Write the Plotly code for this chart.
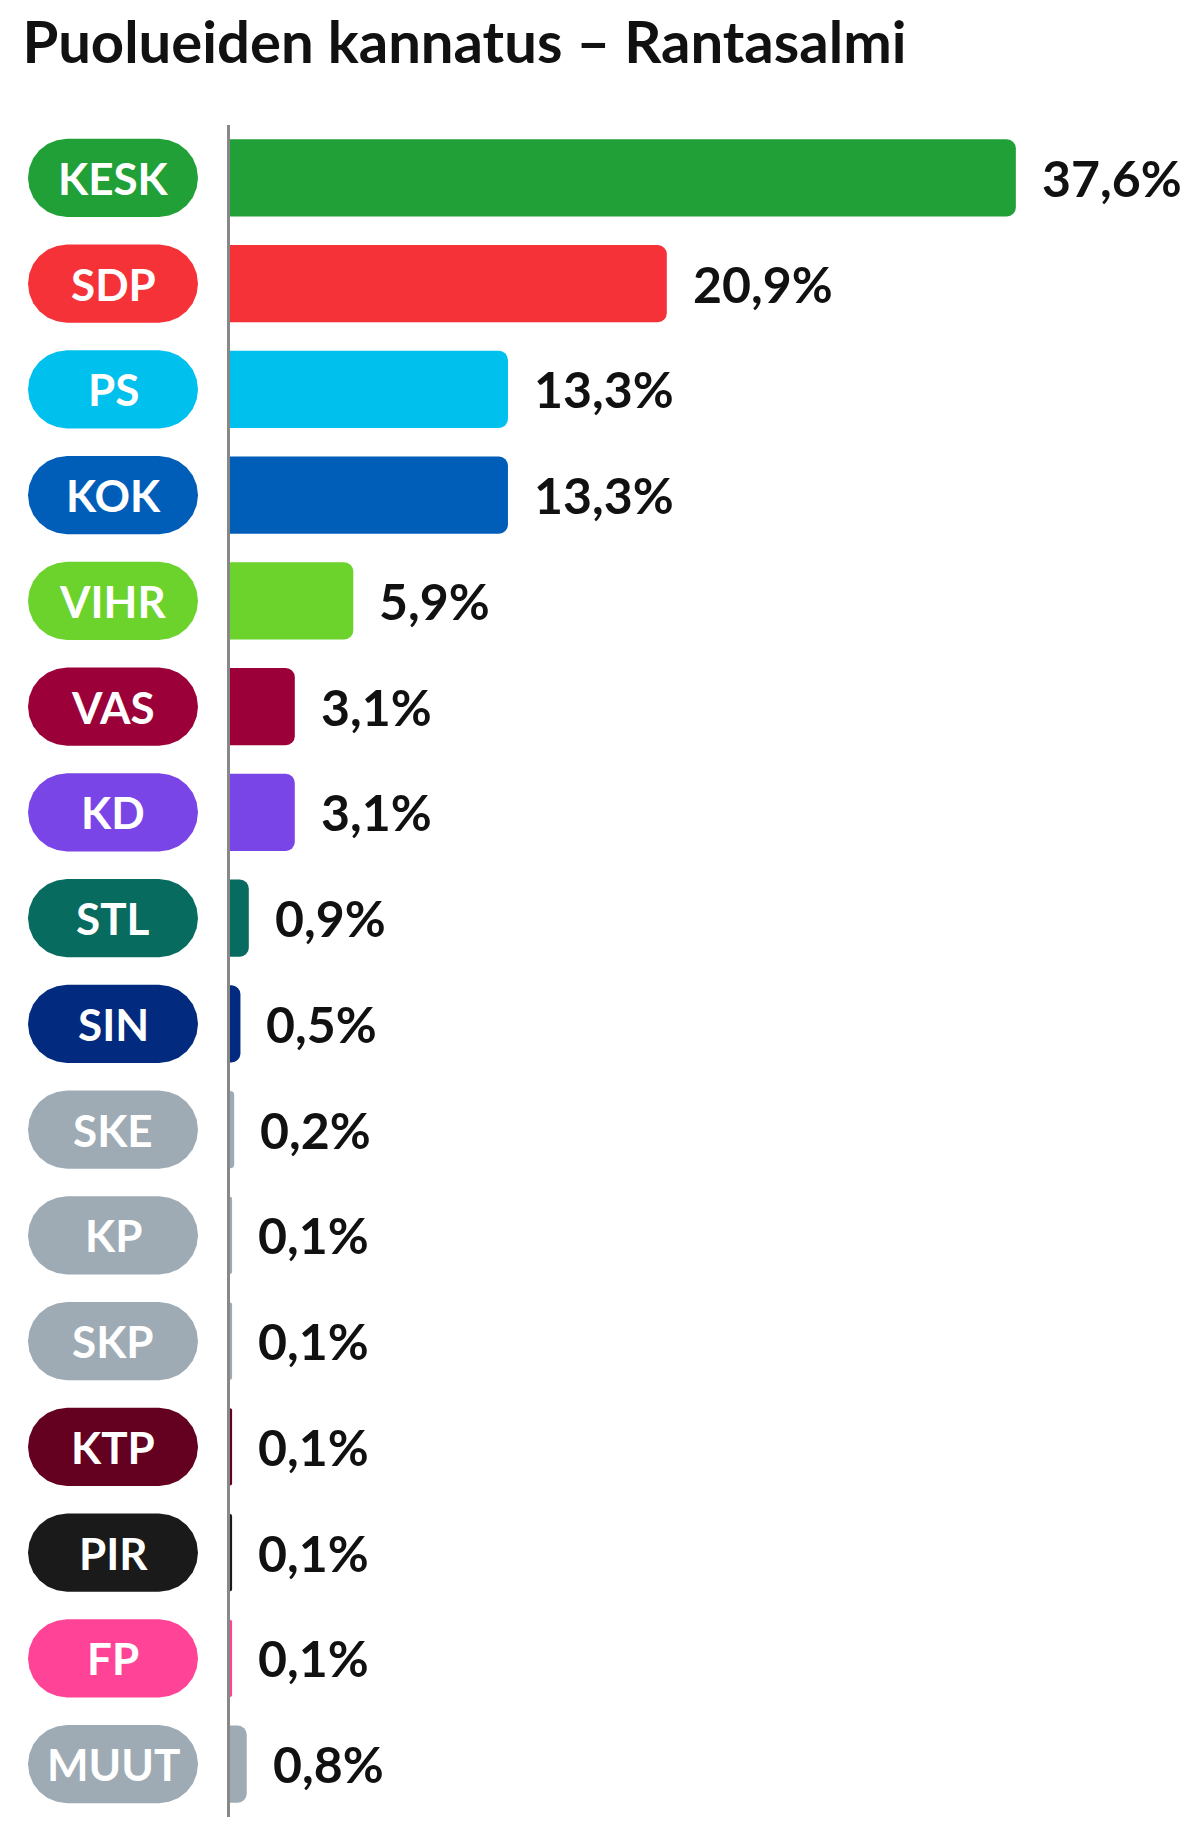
import math
import plotly.graph_objects as go

parties = ['KESK', 'SDP', 'PS', 'KOK', 'VIHR', 'VAS', 'KD', 'STL', 'SIN', 'SKE',
           'KP', 'SKP', 'KTP', 'PIR', 'FP', 'MUUT']
support = [37.6, 20.9, 13.3, 13.3, 5.9, 3.1, 3.1, 0.9, 0.5, 0.2,
           0.1, 0.1, 0.1, 0.1, 0.1, 0.8]
labels = ['37,6%', '20,9%', '13,3%', '13,3%', '5,9%', '3,1%', '3,1%', '0,9%', '0,5%', '0,2%',
          '0,1%', '0,1%', '0,1%', '0,1%', '0,1%', '0,8%']
colors = ['#21a038', '#f53237', '#00c0ee', '#005eb8', '#6cd22c', '#9b0039', '#7a45e6',
          '#076b5f', '#022b7f', '#9eabb4', '#9eabb4', '#9eabb4', '#640020', '#1a1a1a',
          '#ff4397', '#9eabb4']

W, H = 1199, 1826
ML, MR, MT, MB = 222, 36, 117, 17
pw = W - ML - MR
rowh = (H - MT - MB) / len(parties)

fig = go.Figure(go.Bar(
    x=support, y=parties, orientation='h',
    marker=dict(color=colors, line=dict(width=0)),
    width=0.73, hoverinfo='skip'))

# value labels
for p, v, t in zip(parties, support, labels):
    fig.add_annotation(x=v, y=p, text='<b>' + t + '</b>', showarrow=False,
                       xanchor='left', xshift=24,
                       font=dict(family='Lato', size=50, color='#111'))

# pill-shaped party badges (pixel geometry converted to paper / data units)
px0, px1 = 20 - ML, 190 - ML
hpx = 39
for i, (p, c) in enumerate(zip(parties, colors)):
    cy = i
    pts = []
    for k in range(13):
        a = -math.pi / 2 + math.pi * k / 12
        pts.append(((px1 - hpx + hpx * math.cos(a)) / pw, cy + hpx * math.sin(a) / rowh))
    for k in range(13):
        a = math.pi / 2 + math.pi * k / 12
        pts.append(((px0 + hpx + hpx * math.cos(a)) / pw, cy + hpx * math.sin(a) / rowh))
    path = 'M ' + ' L '.join(f'{x:.5f},{y:.4f}' for x, y in pts) + ' Z'
    fig.add_shape(type='path', path=path, xref='paper', yref='y',
                  fillcolor=c, line=dict(width=0), layer='above')
    fig.add_annotation(x=(px0 + px1) / 2 / pw, y=p, xref='paper', xanchor='center',
                       text='<b>' + p + '</b>', showarrow=False,
                       font=dict(family='Lato', size=44, color='white'))

fig.update_layout(
    width=W, height=H, margin=dict(l=ML, r=MR, t=MT, b=MB),
    plot_bgcolor='white', paper_bgcolor='white', barcornerradius=9,
    showlegend=False,
    title=dict(text='<b>Puolueiden kannatus – Rantasalmi</b>', x=0.012, xanchor='left',
               y=0.981, yanchor='middle', font=dict(family='Lato', size=58, color='#111')),
    xaxis=dict(range=[0, pw / 20.9], showgrid=False, zeroline=False,
               showticklabels=False, showline=False, fixedrange=True),
    yaxis=dict(autorange=False, showticklabels=False, showgrid=False,
               showline=True, linecolor='#888', linewidth=3, fixedrange=True,
               range=[len(parties) - 0.5, -0.5]),
)

fig.write_html('out.html')
